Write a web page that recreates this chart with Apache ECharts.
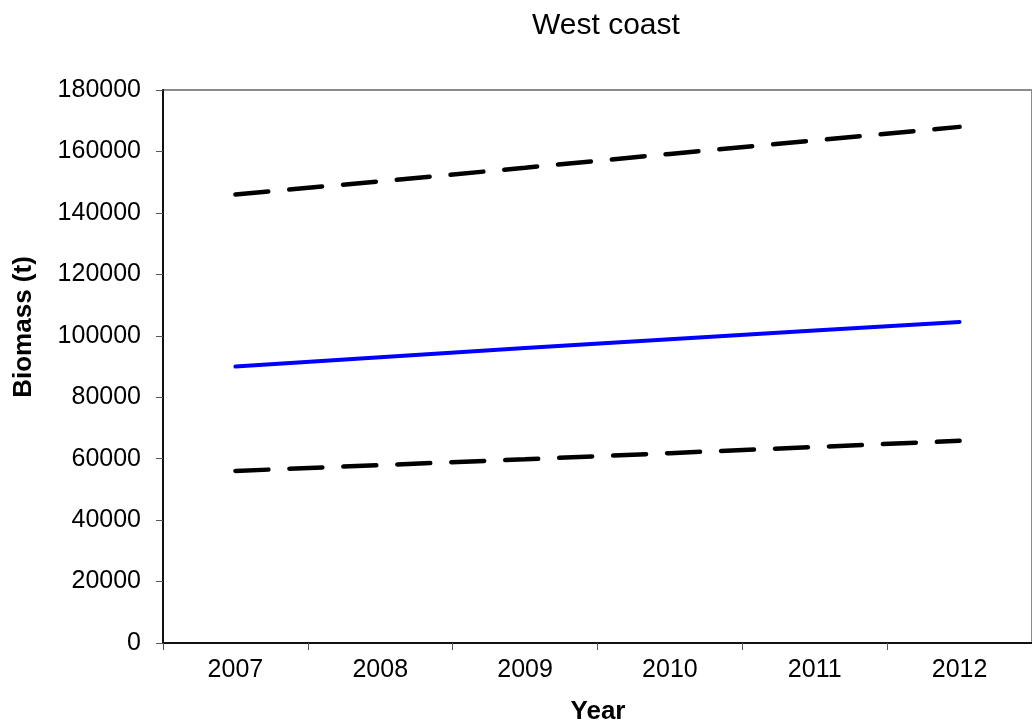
<!DOCTYPE html>
<html>
<head>
<meta charset="utf-8">
<script src="https://cdn.jsdelivr.net/npm/echarts@6/dist/echarts.min.js"></script>
<style>html,body{margin:0;padding:0;background:#fff;}#c{width:1032px;height:724px;}</style>
</head>
<body>
<div id="c"></div>
<script>
var years = ['2007', '2008', '2009', '2010', '2011', '2012'];
var biomass = [90000, 93000, 96000, 98900, 101700, 104500];
var upper = [146000, 150300, 154700, 159200, 163600, 168000];
var lower = [56000, 57900, 59800, 61800, 63800, 65800];
var yTicks = { min: 0, max: 180000, interval: 20000 };

var FONT = 'Liberation Sans, Arial, sans-serif';
var chart = echarts.init(document.getElementById('c'), null, { renderer: 'canvas' });
var dashStyle = { color: '#000', width: 4.5, type: [33, 21], cap: 'round' };
chart.setOption({
  animation: false,
  backgroundColor: '#fff',
  title: {
    text: 'West coast',
    left: 527, top: 6,
    textStyle: { fontFamily: FONT, fontSize: 30, fontWeight: 'normal', color: '#000' }
  },
  graphic: [
    {
      type: 'text', x: 24, y: 327, rotation: Math.PI / 2,
      style: { text: 'Biomass (t)', fontFamily: FONT, fontSize: 26, fontWeight: 'bold', fill: '#000', align: 'center', verticalAlign: 'middle' }
    },
    {
      type: 'text', x: 598, y: 712,
      style: { text: 'Year', fontFamily: FONT, fontSize: 26, fontWeight: 'bold', fill: '#000', align: 'center', verticalAlign: 'middle' }
    }
  ],
  grid: {
    left: 163, top: 90, width: 876, height: 553,
    show: true, borderColor: '#8c8c8c', borderWidth: 2, backgroundColor: 'transparent'
  },
  xAxis: {
    type: 'category', data: years, boundaryGap: true,
    axisLine: { lineStyle: { color: '#111', width: 2 } },
    axisTick: { show: true, length: 7, lineStyle: { color: '#555', width: 1 } },
    axisLabel: { fontFamily: FONT, fontSize: 25, color: '#000', margin: 15 },
    splitLine: { show: false }
  },
  yAxis: {
    type: 'value', min: yTicks.min, max: yTicks.max, interval: yTicks.interval,
    axisLine: { show: true, lineStyle: { color: '#111', width: 2 } },
    axisTick: { show: true, length: 7, lineStyle: { color: '#555', width: 1 } },
    axisLabel: { fontFamily: FONT, fontSize: 25, color: '#000', margin: 22, formatter: function (v) { return String(v); } },
    splitLine: { show: false }
  },
  series: [
    { type: 'line', data: upper, symbol: 'none', lineStyle: dashStyle },
    { type: 'line', data: biomass, symbol: 'none', lineStyle: { color: '#0000ff', width: 4, cap: 'round' } },
    { type: 'line', data: lower, symbol: 'none', lineStyle: dashStyle }
  ]
});
</script>
</body>
</html>
